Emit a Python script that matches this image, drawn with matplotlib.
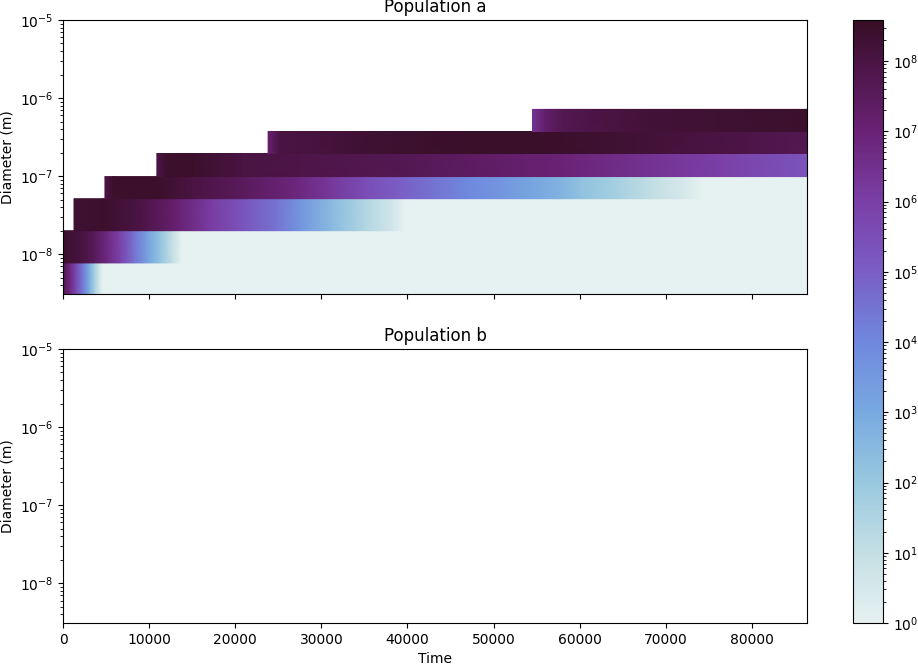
import numpy as np
import matplotlib
matplotlib.use("Agg")
import matplotlib.pyplot as plt
from matplotlib.colors import LogNorm, LinearSegmentedColormap
from matplotlib.cm import ScalarMappable

# ---- data ----
t_end = 86400
bin_edges = [3.09e-9, 7.73e-9, 2.0e-8, 5.14e-8, 9.87e-8, 1.95e-7, 3.73e-7, 7.16e-7]

# time keypoints (s) and log10(number) per diameter bin, population a
bin1_t = [0, 800, 1600, 2400, 3100, 3700, 4300, 4600, 86400]
bin1_v = [7.8, 6.8, 5.5, 4.2, 2.8, 1.6, 0.5, 0.0, 0.0]

bin2_t = [0, 1970, 3520, 5070, 6610, 8160, 9710, 11250, 12800, 13770, 86400]
bin2_v = [8.4, 8.1, 7.6, 6.8, 5.9, 4.6, 3.3, 2.2, 0.9, 0.0, 0.0]

bin3_t = [1280, 4680, 9320, 13190, 17050, 20920, 24790, 27500, 31350, 35230, 38320, 39670, 86400]
bin3_v = [8.3, 8.4, 7.9, 7.1, 6.1, 5.3, 4.5, 3.6, 2.4, 1.4, 0.6, 0.0, 0.0]

bin4_t = [4870, 5840, 11250, 15120, 20920, 26720, 31350, 35230, 39090, 42960,
          46830, 50690, 54560, 57650, 60360, 64230, 68100, 71960, 74280, 86400]
bin4_v = [7.9, 8.4, 8.4, 8.0, 7.5, 6.9, 6.2, 5.5, 5.0, 4.5,
          4.0, 3.6, 3.1, 2.7, 2.2, 1.7, 1.1, 0.5, 0.0, 0.0]

bin5_t = [10900, 12030, 15120, 20920, 27500, 39090, 46830, 57650, 68100, 75830, 86400]
bin5_v = [7.9, 8.4, 8.4, 8.0, 7.9, 7.7, 7.4, 7.0, 6.4, 6.0, 5.3]

bin6_t = [23820, 25170, 29810, 35230, 42960, 50690, 56490, 64230, 71960, 79700, 86400]
bin6_v = [7.1, 8.0, 8.1, 8.3, 8.4, 8.5, 8.45, 8.3, 8.1, 7.9, 7.7]

bin7_t = [54520, 56000, 58000, 61000, 68100, 75830, 86400]
bin7_v = [6.4, 7.2, 7.7, 7.9, 8.2, 8.3, 8.4]

pop_a_times = [bin1_t, bin2_t, bin3_t, bin4_t, bin5_t, bin6_t, bin7_t]
pop_a_logvals = [bin1_v, bin2_v, bin3_v, bin4_v, bin5_v, bin6_v, bin7_v]

vmin, vmax = 1.0, 3.84e8
x_ticks = [0, 10000, 20000, 30000, 40000, 50000, 60000, 70000, 80000]

# ---- colormap (approximation of a "dense" style map) ----
dense_colors = ["#E6F1F1", "#C4DFE4", "#98C9DF", "#78A9E0", "#6F88DE",
                "#7A5EC6", "#7A3FA6", "#6A2275", "#4A1444", "#360E24"]
dense_pos = [0.0, 0.1165, 0.233, 0.349, 0.466, 0.582, 0.699, 0.815, 0.932, 1.0]
cmap = LinearSegmentedColormap.from_list("dense_like", list(zip(dense_pos, dense_colors)), N=512)
norm = LogNorm(vmin=vmin, vmax=vmax)

# ---- figure ----
fig = plt.figure(figsize=(9.18, 6.67), dpi=100)
ax1 = fig.add_axes([63/918, 1-294/667, 744/918, 274/667])
ax2 = fig.add_axes([63/918, 1-623/667, 744/918, 274/667], sharex=ax1)
cax = fig.add_axes([853/918, 1-623/667, 30/918, 603/667])

for i in range(len(pop_a_times)):
    t = np.array(pop_a_times[i], dtype=float)
    v = 10.0 ** np.array(pop_a_logvals[i], dtype=float)
    X, Y = np.meshgrid(t, [bin_edges[i], bin_edges[i+1]])
    C = np.vstack([v, v])
    ax1.pcolormesh(X, Y, C, cmap=cmap, norm=norm, shading="gouraud")

for ax, title in [(ax1, "Population a"), (ax2, "Population b")]:
    ax.set_yscale("log")
    ax.set_ylim(bin_edges[0], 1e-5)
    ax.set_xlim(0, t_end)
    ax.set_title(title)
    ax.set_ylabel("Diameter (m)")
    ax.set_xticks(x_ticks)

plt.setp(ax1.get_xticklabels(), visible=False)
ax2.set_xlabel("Time")

sm = ScalarMappable(norm=norm, cmap=cmap)
sm.set_array([])
fig.colorbar(sm, cax=cax)

fig.savefig("out.png", dpi=100)
